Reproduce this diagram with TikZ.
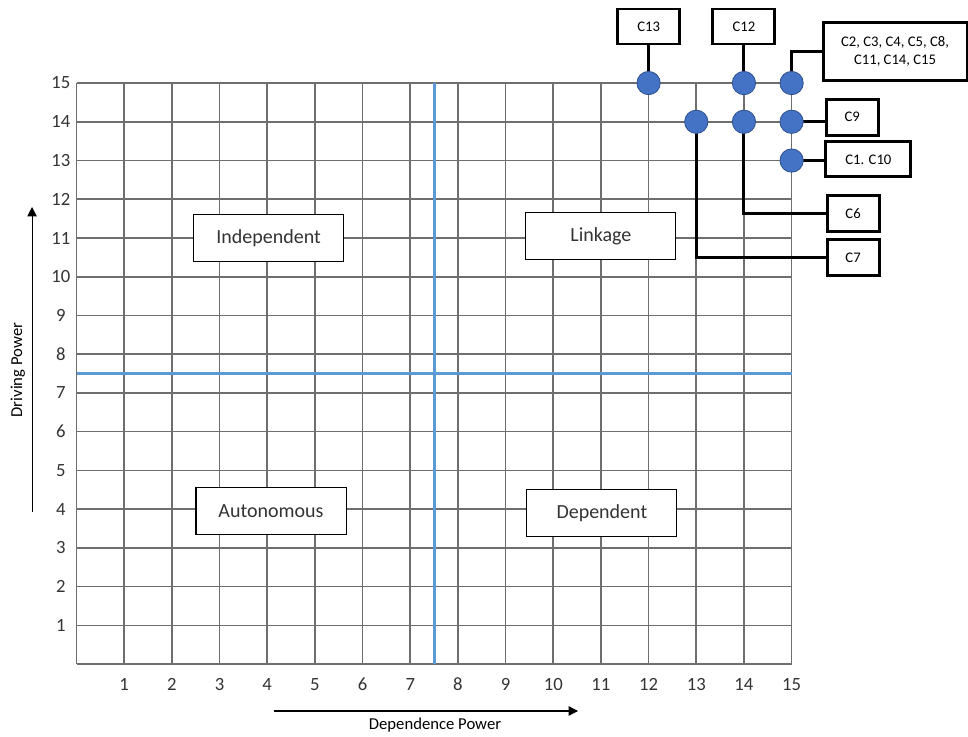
\documentclass[tikz,border=0pt]{standalone}
\usepackage{fontspec}
\setmainfont{Carlito}
\usetikzlibrary{positioning,calc,arrows.meta}

\definecolor{gridgray}{RGB}{110,110,110}
\definecolor{quadblue}{RGB}{91,155,213}
\definecolor{dotblue}{RGB}{68,114,196}
\definecolor{dotedge}{RGB}{47,82,143}

\tikzset{
  gridline/.style={draw=gridgray,line width=1.2pt},
  quadline/.style={draw=quadblue,line width=2.3pt},
  quadbox/.style={draw=black,line width=0.8pt,fill=white,minimum width=112.5pt,
    minimum height=35.25pt,inner sep=0pt,font=\fontsize{15}{18}\selectfont,text=black!80},
  tagbox/.style={draw=black,line width=2.2pt,fill=white,minimum height=26.25pt,
    inner sep=0pt,font=\fontsize{11}{13.5}\selectfont,align=center},
  tagline/.style={draw=black,line width=2.2pt},
  dot/.style={circle,fill=dotblue,draw=dotedge,line width=0.6pt,minimum size=17.5pt,inner sep=0pt},
  ticklabel/.style={font=\fontsize{14}{16}\selectfont,text=black!80,inner sep=0pt},
  axistitle/.style={font=\fontsize{12.5}{15}\selectfont,inner sep=0pt},
  axisarrow/.style={draw=black,line width=0.8pt,-{Triangle[length=7pt,width=7pt]}}
}

\begin{document}
\begin{tikzpicture}[x=35.75pt,y=29.05pt]
  \useasboundingbox (-1.605,-1.859) rectangle (18.70,17.144);

  %% Grid and quadrant split.
  \foreach \n in {0,...,15} {
    \draw[gridline] (\n,0) -- (\n,15);
    \draw[gridline] (0,\n) -- (15,\n);
  }
  \draw[quadline] (7.5,0) -- (7.5,15);
  \draw[quadline] (0,7.5) -- (15,7.5);

  % Tick labels
  \foreach \n in {1,...,15} {
    \node[ticklabel] (xl\n) at (\n,-0.52) {\n};
    \node[ticklabel] (yl\n) at (-0.33,\n) {\n};
  }

  % Axis titles and arrows
  \coordinate (dpfrom) at (-0.933,3.92);
  \coordinate (dpto) at (-0.933,11.80);
  \draw[axisarrow] (dpfrom) -- (dpto);
  \node[axistitle,rotate=90] (dptitle) at (-1.23,7.59) {Driving Power};
  \coordinate (depfrom) at (4.14,-1.21);
  \coordinate (depto) at (10.52,-1.21);
  \draw[axisarrow] (depfrom) -- (depto);
  \node[axistitle] (deptitle) at (7.52,-1.58) {Dependence Power};

  % Quadrant names
  \node[quadbox] (indep) at (4.03,11.0) {Independent};
  \node[quadbox] (link) at (11.0,11.05) {Linkage};
  \node[quadbox] (auto) at (4.08,3.96) {Autonomous};
  \node[quadbox] (dep) at (11.02,3.89) {Dependent};

  %% Callout boxes.
  \node[tagbox,minimum width=46.5pt] (c13) at (12,16.46) {C13};
  \node[tagbox,minimum width=46.5pt] (c12) at (14,16.46) {C12};
  \node[tagbox,minimum width=108pt,minimum height=43.5pt] (cmany) at (17.17,15.81)
    {C2, C3, C4, C5, C8,\\C11, C14, C15};
  \node[tagbox,minimum width=39pt,minimum height=27pt] (c9) at (16.27,14.12) {C9};
  \node[tagbox,minimum width=63.75pt] (c1) at (16.61,13.03) {C1. C10};
  \node[tagbox,minimum width=39pt,minimum height=27pt] (c6) at (16.29,11.63) {C6};
  \node[tagbox,minimum width=39pt,minimum height=27pt] (c7) at (16.29,10.49) {C7};

  % Points
  \foreach \px/\py in {12/15,14/15,15/15,13/14,14/14,15/14,15/13} {
    \coordinate (q\px-\py) at (\px,\py);
  }
  \draw[tagline] (c13) -- (q12-15);
  \draw[tagline] (c12) -- (q14-15);
  \draw[tagline] (cmany.west) -| (q15-15);
  \draw[tagline] (q15-14) -- (q15-14 -| c9.west);
  \draw[tagline] (q15-13) -- (q15-13 -| c1.west);
  \draw[tagline] (q14-14) |- (c6.west);
  \draw[tagline] (q13-14) |- (c7.west);
  \foreach \px/\py in {12/15,14/15,15/15,13/14,14/14,15/14,15/13} {
    \node[dot] (p\px-\py) at (q\px-\py) {};
  }
\end{tikzpicture}
\end{document}
